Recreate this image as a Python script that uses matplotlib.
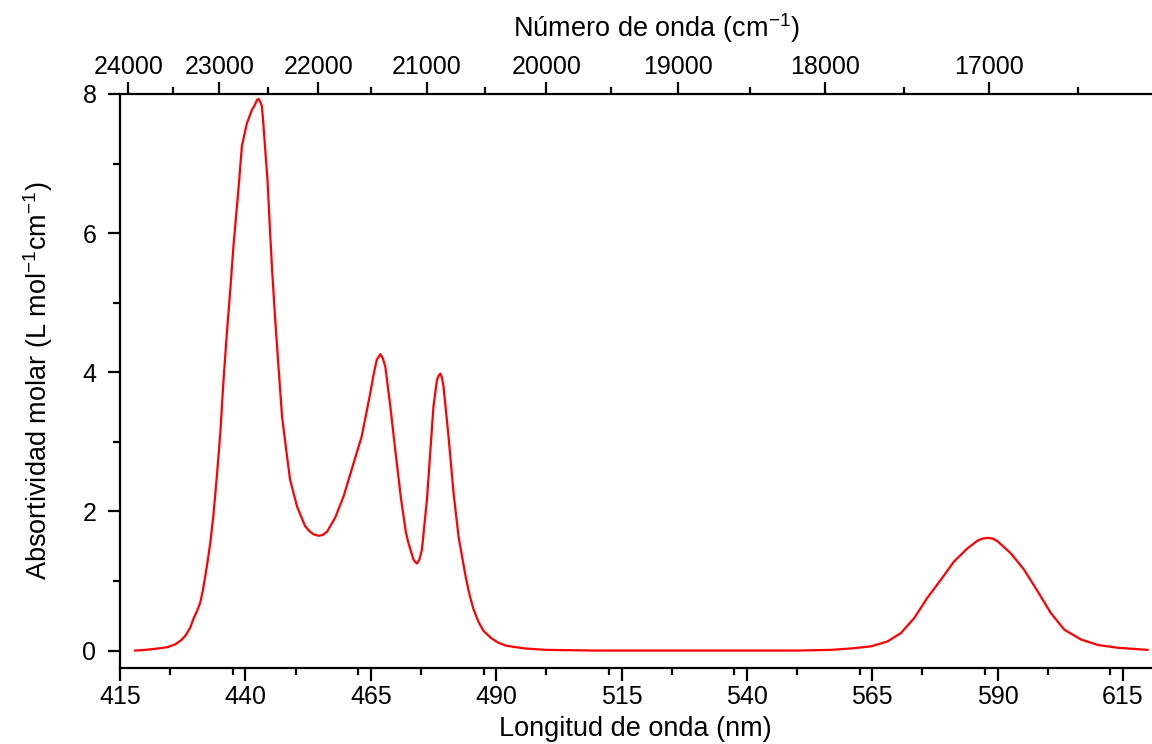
import numpy as np
import matplotlib

matplotlib.use("Agg")
import matplotlib.pyplot as plt
from matplotlib.ticker import FixedLocator, MultipleLocator, NullFormatter

plt.rcParams["font.family"] = ["Liberation Sans", "DejaVu Sans"]
plt.rcParams["mathtext.default"] = "regular"

# absorption spectrum, wavelength (nm) vs molar absorptivity
wavelength_nm = [
    418.0, 420.0, 422.6, 424.5, 426.0, 427.2, 428.0, 429.0, 429.6, 430.3,
    431.0, 431.5, 432.0, 432.5, 433.0, 433.6, 434.3, 435.0, 435.6, 436.3,
    437.0, 437.6, 438.6, 439.3, 440.3, 441.3, 441.8, 442.3, 442.6, 443.0,
    443.3, 443.6, 443.9, 444.4, 444.9, 445.3, 445.9, 446.6, 447.3, 448.3,
    448.9, 450.3, 451.9, 452.7, 453.6, 454.6, 455.4, 456.3, 457.9, 459.6,
    461.6, 463.2, 464.9, 465.6, 466.2, 466.9, 467.4, 467.9, 468.9, 469.9,
    471.0, 472.0, 472.5, 473.5, 473.9, 474.2, 474.7, 475.2, 476.2, 476.9,
    477.5, 478.2, 478.6, 478.9, 479.2, 479.5, 480.5, 481.5, 482.5, 483.9,
    484.7, 485.5, 486.5, 487.5, 489.0, 490.5, 492.0, 493.8, 495.8, 500.0,
    510.0, 530.0, 550.0, 556.7, 560.7, 564.7, 568.0, 570.7, 573.4, 576.0,
    578.7, 581.3, 584.0, 586.0, 587.0, 588.0, 589.0, 590.0, 592.6, 595.3,
    598.0, 600.6, 603.3, 606.6, 610.0, 614.0, 619.9,
]
absorptivity = [
    0.00, 0.01, 0.03, 0.05, 0.09, 0.15, 0.21, 0.33, 0.45, 0.56,
    0.69, 0.86, 1.07, 1.30, 1.55, 1.93, 2.50, 3.13, 3.85, 4.56,
    5.20, 5.80, 6.62, 7.25, 7.58, 7.77, 7.83, 7.91, 7.93, 7.88,
    7.82, 7.55, 7.25, 6.77, 6.05, 5.50, 4.80, 4.08, 3.37, 2.79,
    2.46, 2.07, 1.79, 1.72, 1.67, 1.65, 1.66, 1.71, 1.91, 2.22,
    2.70, 3.08, 3.70, 3.98, 4.18, 4.26, 4.20, 4.08, 3.51, 2.87,
    2.20, 1.70, 1.55, 1.31, 1.27, 1.25, 1.31, 1.45, 2.17, 2.89,
    3.51, 3.89, 3.96, 3.98, 3.92, 3.80, 3.08, 2.27, 1.64, 1.07,
    0.80, 0.59, 0.41, 0.28, 0.18, 0.11, 0.07, 0.05, 0.03, 0.01,
    0.00, 0.00, 0.00, 0.01, 0.03, 0.06, 0.13, 0.25, 0.47, 0.76,
    1.02, 1.28, 1.47, 1.58, 1.61, 1.62, 1.61, 1.57, 1.40, 1.16,
    0.85, 0.54, 0.30, 0.16, 0.08, 0.04, 0.01,
]

nm_ticks = [415, 440, 465, 490, 515, 540, 565, 590, 615]
y_ticks = [0, 2, 4, 6, 8]
wavenumber_ticks = [24000, 23000, 22000, 21000, 20000, 19000, 18000, 17000]
wavenumber_minor = [23500, 22500, 21500, 20500, 19500, 18500, 17500, 16500]


def nm_to_cm(x):
    x = np.array(x, dtype=float)
    out = np.full_like(x, np.inf)
    ok = ~np.isclose(x, 0)
    out[ok] = 1e7 / x[ok]
    return out


fig = plt.figure(figsize=(11.52, 7.44), dpi=100)
ax = fig.add_axes([0.1042, 0.1022, 0.8950, 0.7715])

ax.plot(wavelength_nm, absorptivity, color="#ff0000", lw=1.6)

ax.set_xlim(415, 620.6)
ax.set_ylim(-0.25, 8)
ax.xaxis.set_major_locator(FixedLocator(nm_ticks))
ax.xaxis.set_minor_locator(MultipleLocator(12.5))
ax.yaxis.set_major_locator(FixedLocator(y_ticks))
ax.yaxis.set_minor_locator(MultipleLocator(1))

for side in ("right", "top"):
    ax.spines[side].set_visible(False)
for side in ("left", "bottom"):
    ax.spines[side].set_linewidth(1.6)

ax.tick_params(axis="both", which="major", direction="out", length=9,
               width=1.6, labelsize=18, pad=3)
ax.tick_params(axis="both", which="minor", direction="out", length=5,
               width=1.6)
ax.tick_params(axis="y", which="major", pad=8)

ax.set_xlabel("Longitud de onda (nm)", fontsize=19.5, labelpad=5)
ax.set_ylabel("Absortividad molar (L mol$^{-1}$cm$^{-1}$)", fontsize=19.5,
              labelpad=20)

# wavenumber scale on top, ticks placed at 1e7/nu
top = ax.secondary_xaxis("top", functions=(nm_to_cm, nm_to_cm))
top.xaxis.set_major_locator(FixedLocator(wavenumber_ticks))
top.xaxis.set_minor_locator(FixedLocator(wavenumber_minor))
top.xaxis.set_minor_formatter(NullFormatter())
top.spines["top"].set_linewidth(1.6)
top.tick_params(axis="x", which="major", direction="out", length=9,
                width=1.6, labelsize=18, pad=2)
top.tick_params(axis="x", which="minor", direction="out", length=5,
                width=1.6)
top.set_xlabel("Número de onda (cm$^{-1}$)", fontsize=19.5, labelpad=13)
top.xaxis.label.set_x(0.52)

fig.savefig("out.png", dpi=100, facecolor="white")
